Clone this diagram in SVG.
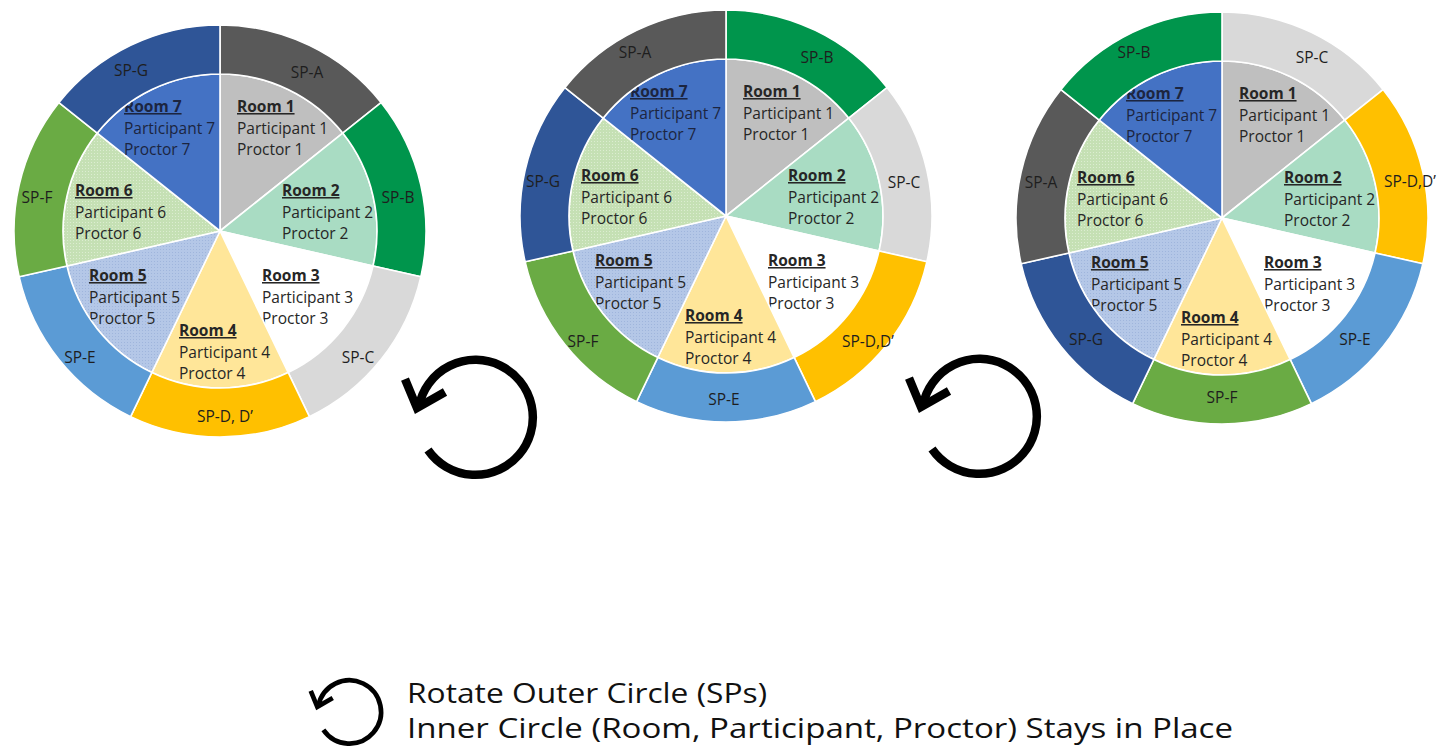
<svg xmlns="http://www.w3.org/2000/svg" xmlns:xlink="http://www.w3.org/1999/xlink" width="1455" height="752" viewBox="0 0 1455 752">
<style>
.sep{stroke:#ffffff;stroke-width:1.6;stroke-linejoin:round}
.rt{font-family:"Open Sans","Liberation Sans",sans-serif;font-size:15.5px;fill:#262626}
.rh{font-weight:bold;text-decoration:underline}
.r7{fill:#1c2540}
.sp{font-family:"Open Sans","Liberation Sans",sans-serif;font-size:15.5px;fill:#1e1e1e;text-anchor:middle}
.arr{fill:none;stroke:#000;stroke-width:8.5;stroke-linecap:butt;stroke-linejoin:miter}
.lg{font-family:"Open Sans","Liberation Sans",sans-serif;font-size:28px;fill:#111}
.room1{fill:#bfbfbf}.room2{fill:#a9dcc3}.room3{fill:#ffffff}.room4{fill:#ffe699}
.room5{fill:url(#dotB)}.room6{fill:url(#dotG)}.room7{fill:#4472c4}
.spA{fill:#595959}.spB{fill:#00954c}.spC{fill:#d9d9d9}.spD{fill:#ffc000}
.spE{fill:#5b9bd5}.spF{fill:#6aab44}.spG{fill:#2f5597}
</style>
<defs>
<pattern id="dotB" width="3" height="3" patternUnits="userSpaceOnUse">
<rect width="3" height="3" fill="#b4c7e7"/><rect x="0" y="0" width="1" height="1" fill="#9fb5dc"/>
</pattern>
<pattern id="dotG" width="3" height="3" patternUnits="userSpaceOnUse">
<rect width="3" height="3" fill="#c5e0b4"/><rect x="0" y="0" width="1" height="1" fill="#dcedd1"/>
</pattern>
<path id="in0" d="M0 0L0 -157A157 157 0 0 1 122.75 -97.89Z"/>
<path id="in1" d="M0 0L122.75 -97.89A157 157 0 0 1 153.06 34.94Z"/>
<path id="in2" d="M0 0L153.06 34.94A157 157 0 0 1 68.12 141.45Z"/>
<path id="in3" d="M0 0L68.12 141.45A157 157 0 0 1 -68.12 141.45Z"/>
<path id="in4" d="M0 0L-68.12 141.45A157 157 0 0 1 -153.06 34.94Z"/>
<path id="in5" d="M0 0L-153.06 34.94A157 157 0 0 1 -122.75 -97.89Z"/>
<path id="in6" d="M0 0L-122.75 -97.89A157 157 0 0 1 0 -157Z"/>
<path id="out0" d="M0 -157L0 -206A206 206 0 0 1 161.06 -128.44L122.75 -97.89A157 157 0 0 0 0 -157Z"/>
<path id="out1" d="M122.75 -97.89L161.06 -128.44A206 206 0 0 1 200.84 45.84L153.06 34.94A157 157 0 0 0 122.75 -97.89Z"/>
<path id="out2" d="M153.06 34.94L200.84 45.84A206 206 0 0 1 89.38 185.6L68.12 141.45A157 157 0 0 0 153.06 34.94Z"/>
<path id="out3" d="M68.12 141.45L89.38 185.6A206 206 0 0 1 -89.38 185.6L-68.12 141.45A157 157 0 0 0 68.12 141.45Z"/>
<path id="out4" d="M-68.12 141.45L-89.38 185.6A206 206 0 0 1 -200.84 45.84L-153.06 34.94A157 157 0 0 0 -68.12 141.45Z"/>
<path id="out5" d="M-153.06 34.94L-200.84 45.84A206 206 0 0 1 -161.06 -128.44L-122.75 -97.89A157 157 0 0 0 -153.06 34.94Z"/>
<path id="out6" d="M-122.75 -97.89L-161.06 -128.44A206 206 0 0 1 0 -206L0 -157A157 157 0 0 0 -122.75 -97.89Z"/>
<g id="rooms">
<g id="room-1"><use href="#in0" class="room1 sep"/><text class="rt" x="17" y="-119"><tspan class="rh">Room 1</tspan><tspan x="17" dy="21.5">Participant 1</tspan><tspan x="17" dy="21.5">Proctor 1</tspan></text></g>
<g id="room-2"><use href="#in1" class="room2 sep"/><text class="rt" x="62" y="-35"><tspan class="rh">Room 2</tspan><tspan x="62" dy="21.5">Participant 2</tspan><tspan x="62" dy="21.5">Proctor 2</tspan></text></g>
<g id="room-3"><use href="#in2" class="room3 sep"/><text class="rt" x="42" y="50"><tspan class="rh">Room 3</tspan><tspan x="42" dy="21.5">Participant 3</tspan><tspan x="42" dy="21.5">Proctor 3</tspan></text></g>
<g id="room-4"><use href="#in3" class="room4 sep"/><text class="rt" x="-41" y="105"><tspan class="rh">Room 4</tspan><tspan x="-41" dy="21.5">Participant 4</tspan><tspan x="-41" dy="21.5">Proctor 4</tspan></text></g>
<g id="room-5"><use href="#in4" class="room5 sep"/><text class="rt" x="-131" y="50"><tspan class="rh">Room 5</tspan><tspan x="-131" dy="21.5">Participant 5</tspan><tspan x="-131" dy="21.5">Proctor 5</tspan></text></g>
<g id="room-6"><use href="#in5" class="room6 sep"/><text class="rt" x="-145" y="-35"><tspan class="rh">Room 6</tspan><tspan x="-145" dy="21.5">Participant 6</tspan><tspan x="-145" dy="21.5">Proctor 6</tspan></text></g>
<g id="room-7"><use href="#in6" class="room7 sep"/><text class="rt r7" x="-96" y="-119"><tspan class="rh">Room 7</tspan><tspan x="-96" dy="21.5">Participant 7</tspan><tspan x="-96" dy="21.5">Proctor 7</tspan></text></g>
</g>
<g id="rot-arrow">
<path class="arr" d="M-47.5 33.5A57.5 57.5 0 1 0 -56.6 -10.2"/>
<path class="arr" d="M-70.5 -37.5L-58.5 -8.5L-30.5 -24.5"/>
</g>
</defs>

<g id="chart-1" transform="translate(220 231)">
<use href="#rooms"/>
<g id="c1-spA"><use href="#out0" class="spA sep"/><text class="sp" x="87" y="-153">SP-A</text></g>
<g id="c1-spB"><use href="#out1" class="spB sep"/><text class="sp" x="178" y="-28">SP-B</text></g>
<g id="c1-spC"><use href="#out2" class="spC sep"/><text class="sp" x="138" y="132">SP-C</text></g>
<g id="c1-spD"><use href="#out3" class="spD sep"/><text class="sp" x="5" y="191">SP-D, D’</text></g>
<g id="c1-spE"><use href="#out4" class="spE sep"/><text class="sp" x="-140" y="132">SP-E</text></g>
<g id="c1-spF"><use href="#out5" class="spF sep"/><text class="sp" x="-183" y="-28">SP-F</text></g>
<g id="c1-spG"><use href="#out6" class="spG sep"/><text class="sp" x="-89" y="-155">SP-G</text></g>
</g>

<g id="chart-2" transform="translate(726 216)">
<use href="#rooms"/>
<g id="c2-spB"><use href="#out0" class="spB sep"/><text class="sp" x="91" y="-153">SP-B</text></g>
<g id="c2-spC"><use href="#out1" class="spC sep"/><text class="sp" x="178" y="-28">SP-C</text></g>
<g id="c2-spD"><use href="#out2" class="spD sep"/><text class="sp" x="142" y="131">SP-D,D’</text></g>
<g id="c2-spE"><use href="#out3" class="spE sep"/><text class="sp" x="-2" y="189">SP-E</text></g>
<g id="c2-spF"><use href="#out4" class="spF sep"/><text class="sp" x="-143" y="131">SP-F</text></g>
<g id="c2-spG"><use href="#out5" class="spG sep"/><text class="sp" x="-183" y="-29">SP-G</text></g>
<g id="c2-spA"><use href="#out6" class="spA sep"/><text class="sp" x="-91" y="-158">SP-A</text></g>
</g>

<g id="chart-3" transform="translate(1222 218)">
<use href="#rooms"/>
<g id="c3-spC"><use href="#out0" class="spC sep"/><text class="sp" x="90" y="-155">SP-C</text></g>
<g id="c3-spD"><use href="#out1" class="spD sep"/><text class="sp" x="188" y="-31">SP-D,D’</text></g>
<g id="c3-spE"><use href="#out2" class="spE sep"/><text class="sp" x="133" y="127">SP-E</text></g>
<g id="c3-spF"><use href="#out3" class="spF sep"/><text class="sp" x="0" y="185">SP-F</text></g>
<g id="c3-spG"><use href="#out4" class="spG sep"/><text class="sp" x="-136" y="127">SP-G</text></g>
<g id="c3-spA"><use href="#out5" class="spA sep"/><text class="sp" x="-181" y="-30">SP-A</text></g>
<g id="c3-spB"><use href="#out6" class="spB sep"/><text class="sp" x="-88" y="-160">SP-B</text></g>
</g>

<g id="connectors">
<use href="#rot-arrow" transform="translate(475.5 416.5)"/>
<use href="#rot-arrow" transform="translate(979.5 415.5)"/>
</g>

<g id="legend">
<use href="#rot-arrow" transform="translate(349.5 711.5) scale(0.55)"/>
<text class="lg" x="407" y="703" textLength="360" lengthAdjust="spacingAndGlyphs">Rotate Outer Circle (SPs)</text>
<text class="lg" x="407" y="738" textLength="826" lengthAdjust="spacingAndGlyphs">Inner Circle (Room, Participant, Proctor) Stays in Place</text>
</g>
</svg>
